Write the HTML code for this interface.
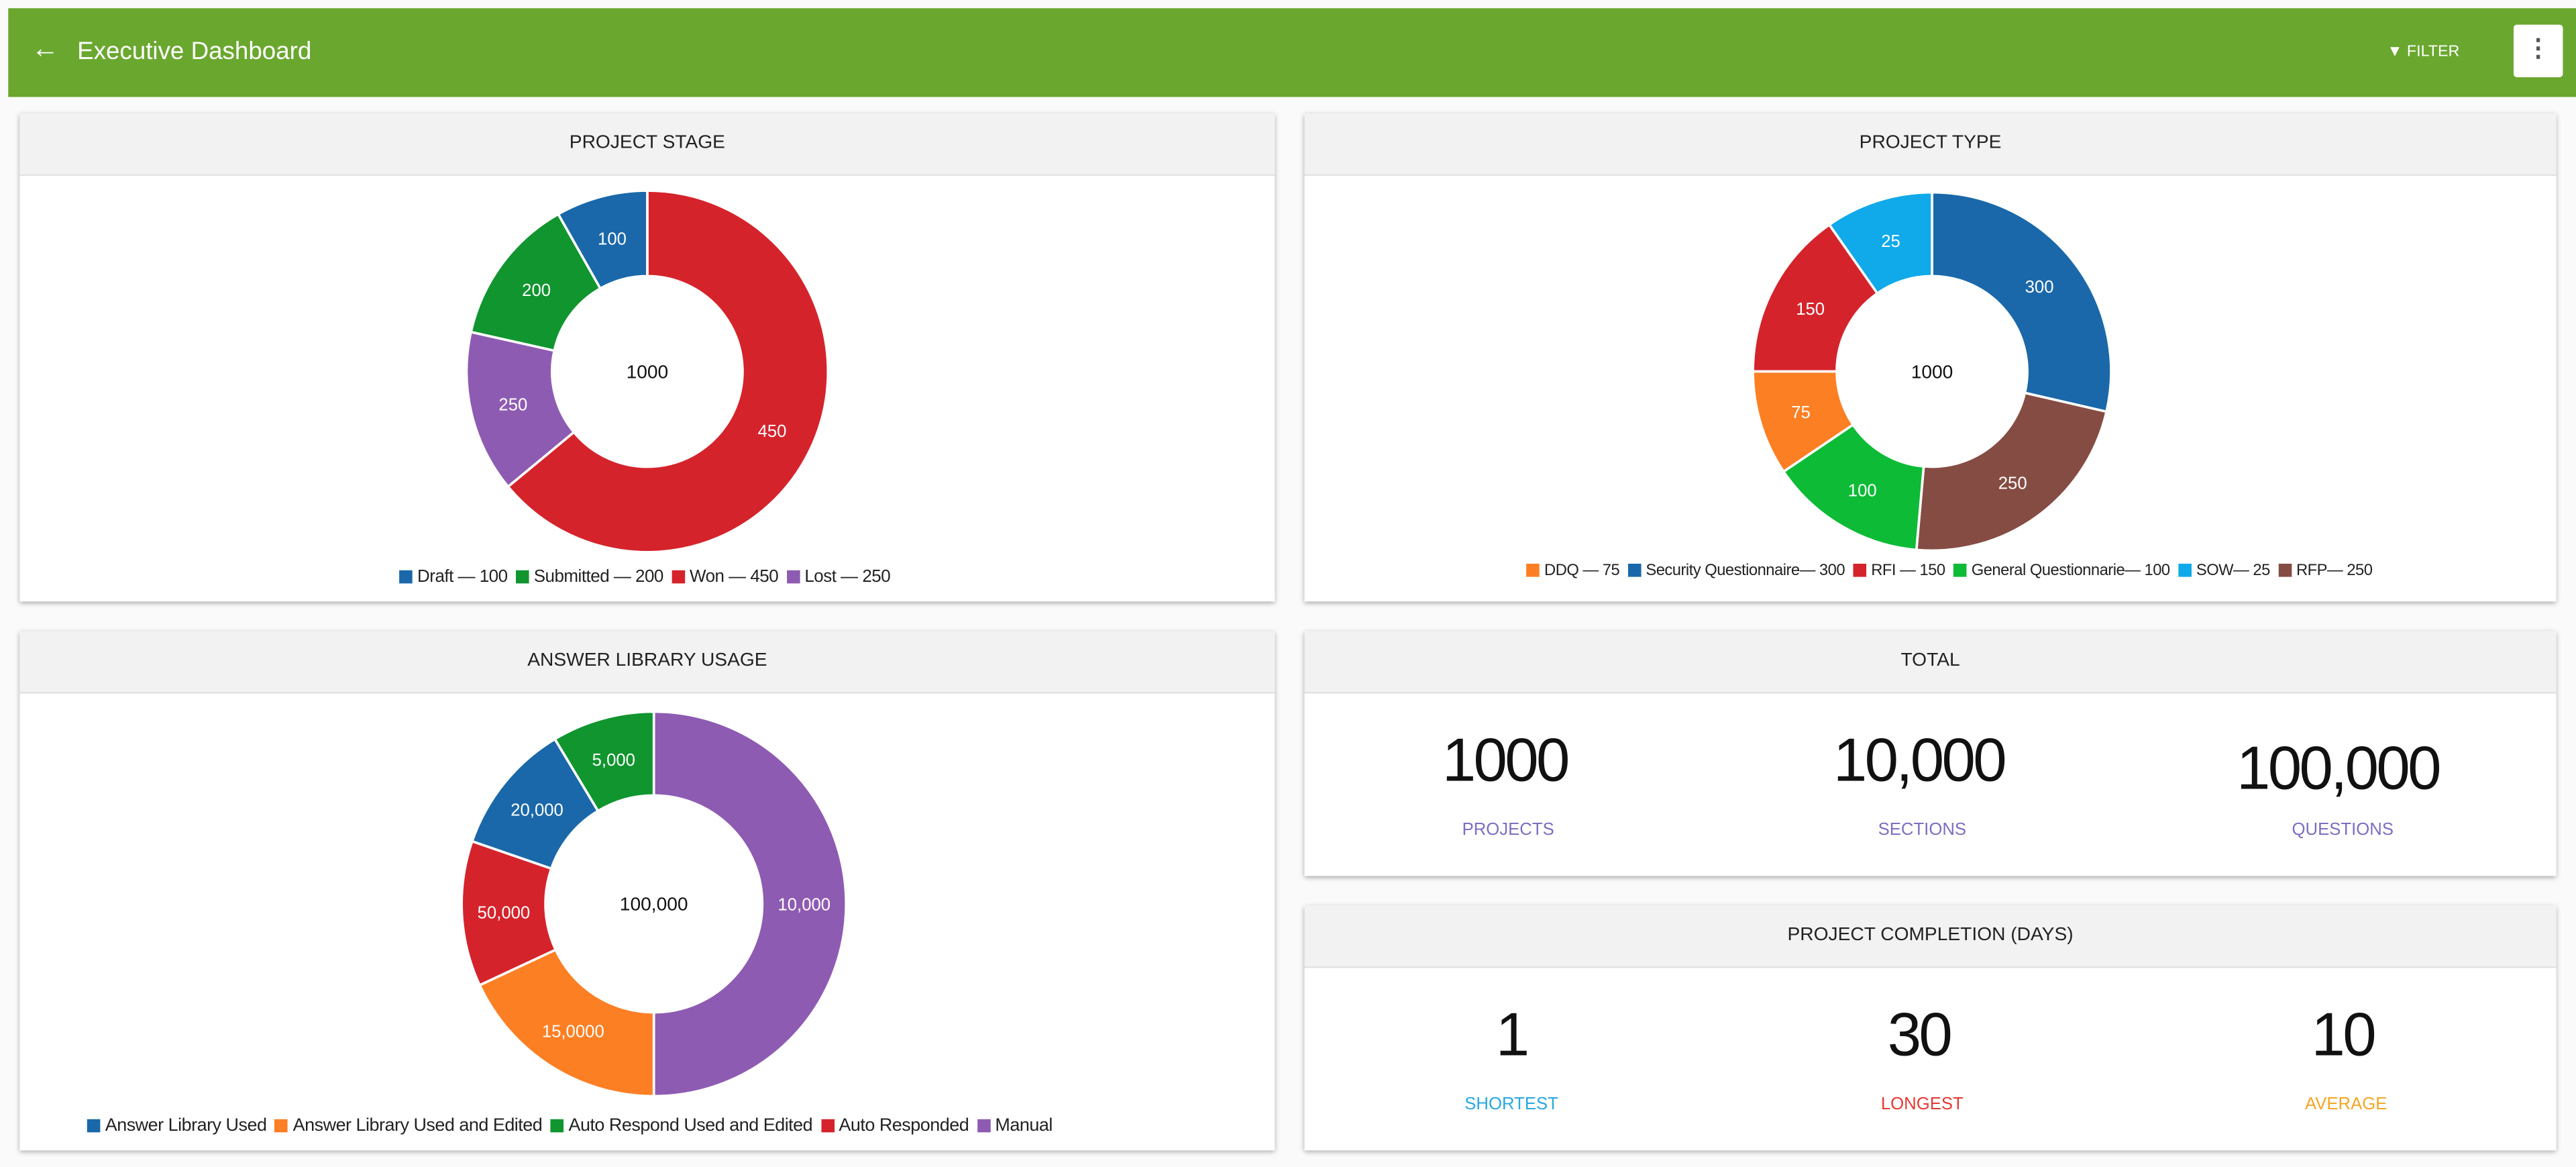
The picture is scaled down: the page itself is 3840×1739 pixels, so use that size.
<!DOCTYPE html>
<html><head><meta charset="utf-8">
<style>
html,body{margin:0;padding:0;width:3840px;height:1738px;overflow:hidden;background:#fafafa;font-family:"Liberation Sans",sans-serif;}
#root{position:absolute;left:0;top:0;width:1568px;height:710px;transform:scale(2.449);transform-origin:0 0;}
.hdr{position:absolute;left:5px;top:5px;width:1563px;height:54px;background:#6aa72f;}
.card{position:absolute;background:#fff;box-shadow:0 1px 3px rgba(0,0,0,.35);}
.ch{height:37px;background:#f2f2f2;border-bottom:1px solid #e2e2e2;text-align:center;line-height:37px;font-size:11.5px;color:#222;}
.num{position:absolute;width:200px;text-align:center;font-size:37px;letter-spacing:-1.5px;color:#111;}
.lab{position:absolute;width:200px;text-align:center;font-size:10.5px;}
svg text{font-family:"Liberation Sans",sans-serif;}
.leg{position:absolute;font-size:9.5px;color:#222;white-space:nowrap;letter-spacing:-0.2px;}
.leg span.sw{display:inline-block;width:8px;height:8px;margin:0 3px 0 5px;vertical-align:-1px;}
</style></head><body>
<div id="root">
<div class="hdr">
 <div style="position:absolute;left:14px;top:15px;color:#fff;font-size:17px;">&#8592;</div>
 <div style="position:absolute;left:42px;top:18px;color:#fff;font-size:15px;">Executive Dashboard</div>
 <div style="position:absolute;left:1448px;top:21px;color:#fff;font-size:9.5px;">&#9660; FILTER</div>
 <div style="position:absolute;left:1525px;top:10px;width:30px;height:32px;background:#fff;border-radius:2px;text-align:center;line-height:30px;font-size:15px;color:#555;font-weight:bold;">&#8942;</div>
</div>

<div class="card" style="left:12px;top:69px;width:764px;height:297px;">
 <div class="ch">PROJECT STAGE</div>
</div>
<div class="card" style="left:794px;top:69px;width:762px;height:297px;">
 <div class="ch">PROJECT TYPE</div>
</div>
<div class="card" style="left:12px;top:384px;width:764px;height:316px;">
 <div class="ch">ANSWER LIBRARY USAGE</div>
</div>
<div class="card" style="left:794px;top:384px;width:762px;height:149px;">
 <div class="ch">TOTAL</div>
</div>
<div class="card" style="left:794px;top:551px;width:762px;height:149px;">
 <div class="ch">PROJECT COMPLETION (DAYS)</div>
</div>

<div class="num" style="left:816px;top:442px;">1000</div>
<div class="lab" style="left:818px;top:499px;color:#7b6fc0;">PROJECTS</div>
<div class="num" style="left:1068px;top:442px;">10,000</div>
<div class="lab" style="left:1070px;top:499px;color:#7b6fc0;">SECTIONS</div>
<div class="num" style="left:1323px;top:447px;">100,000</div>
<div class="lab" style="left:1326px;top:499px;color:#7b6fc0;">QUESTIONS</div>

<div class="num" style="left:820px;top:609px;">1</div>
<div class="lab" style="left:820px;top:666px;color:#29a8e0;">SHORTEST</div>
<div class="num" style="left:1068px;top:609px;">30</div>
<div class="lab" style="left:1070px;top:666px;color:#e53935;">LONGEST</div>
<div class="num" style="left:1326px;top:609px;">10</div>
<div class="lab" style="left:1328px;top:666px;color:#f5a623;">AVERAGE</div>

<svg id="charts" width="1568" height="710" style="position:absolute;left:0;top:0;"></svg>

<div class="leg" style="left:238px;top:345px;font-size:10.6px;">
 <span class="sw" style="background:#1a68a9"></span>Draft — 100<span class="sw" style="background:#11952f"></span>Submitted — 200<span class="sw" style="background:#d5232c"></span>Won — 450<span class="sw" style="background:#8e5bb2"></span>Lost — 250</div>
<div class="leg" style="left:924px;top:342px;font-size:9.7px;">
 <span class="sw" style="background:#fd7f23"></span>DDQ — 75<span class="sw" style="background:#1a68a9"></span>Security Questionnaire— 300<span class="sw" style="background:#d5232c"></span>RFI — 150<span class="sw" style="background:#0dbb36"></span>General Questionnarie— 100<span class="sw" style="background:#10a9ea"></span>SOW— 25<span class="sw" style="background:#854c43"></span>RFP— 250</div>
<div class="leg" style="left:48px;top:679px;font-size:11px;">
 <span class="sw" style="background:#1a68a9"></span>Answer Library Used<span class="sw" style="background:#fd7f23"></span>Answer Library Used and Edited<span class="sw" style="background:#11952f"></span>Auto Respond Used and Edited<span class="sw" style="background:#d5232c"></span>Auto Responded<span class="sw" style="background:#8e5bb2"></span>Manual</div>
</div>

<script>
// Project stage (clockwise from top); angular shares
const stageNames = ["won","lost","submitted","draft"];
const stageValues = [64,14.5,13.3,8.2];
const stageLabels = ["450","250","200","100"];
const stageColors = ["#d5232c","#8e5bb2","#11952f","#1a68a9"];
// Project type (clockwise from top)
const typeNames = ["security","rfp","general","ddq","rfi","sow"];
const typeValues = [103,82,51,34,55,35];
const typeLabels = ["300","250","100","75","150","25"];
const typeColors = ["#1a68a9","#854c43","#0dbb36","#fd7f23","#d5232c","#10a9ea"];
// Answer library usage (clockwise from top)
const usageNames = ["manual","library-edited","auto-responded","library-used","auto-edited"];
const usageValues = [180,65,44,40,31];
const usageLabels = ["10,000","15,0000","50,000","20,000","5,000"];
const usageColors = ["#8e5bb2","#fd7f23","#d5232c","#1a68a9","#11952f"];

const svg = document.getElementById('charts');
const NS = "http://www.w3.org/2000/svg";
function pt(cx,cy,r,a){return [cx+r*Math.sin(a), cy-r*Math.cos(a)];}
function donut(prefix,cx,cy,ro,ri,vals,labels,colors,center,names){
  const tot = vals.reduce((a,b)=>a+b,0);
  let a0 = 0;
  vals.forEach((v,i)=>{
    const a1 = a0 + v/tot*2*Math.PI;
    const large = (a1-a0)>Math.PI?1:0;
    const p1=pt(cx,cy,ro,a0),p2=pt(cx,cy,ro,a1),p3=pt(cx,cy,ri,a1),p4=pt(cx,cy,ri,a0);
    const p=document.createElementNS(NS,'path');
    p.setAttribute('d',`M${p1[0]},${p1[1]}A${ro},${ro} 0 ${large} 1 ${p2[0]},${p2[1]}L${p3[0]},${p3[1]}A${ri},${ri} 0 ${large} 0 ${p4[0]},${p4[1]}Z`);
    p.setAttribute('fill',colors[i]);p.setAttribute('stroke','#fff');p.setAttribute('stroke-width','1.5');
    
    
    svg.appendChild(p);
    const m=pt(cx,cy,(ro+ri)/2,(a0+a1)/2);
    const t=document.createElementNS(NS,'text');
    t.setAttribute('x',m[0]);t.setAttribute('y',m[1]+4);t.setAttribute('text-anchor','middle');
    t.setAttribute('font-size','10.5');t.setAttribute('fill','#fff');t.textContent=labels[i];
    
    
    svg.appendChild(t);
    a0=a1;
  });
  const c=document.createElementNS(NS,'text');
  c.setAttribute('x',cx);c.setAttribute('y',cy+4);c.setAttribute('text-anchor','middle');
  c.setAttribute('font-size','11.5');c.setAttribute('fill','#111');c.textContent=center;
  
  
  svg.appendChild(c);
}
donut('project-stage',394,226,110,58,stageValues,stageLabels,stageColors,'1000',stageNames);
donut('project-type',1176,226,109,58,typeValues,typeLabels,typeColors,'1000',typeNames);
donut('answer-library',398,550,117,66,usageValues,usageLabels,usageColors,'100,000',usageNames);
</script>
</body></html>
